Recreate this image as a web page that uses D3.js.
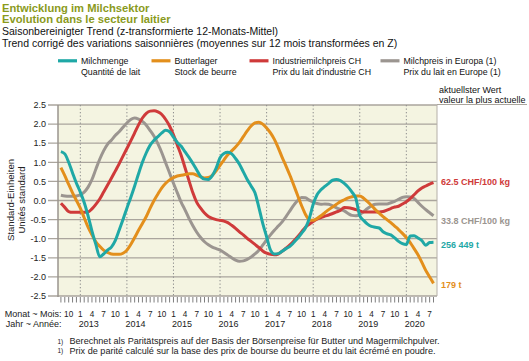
<!DOCTYPE html>
<html>
<head>
<meta charset="utf-8">
<script src="https://cdn.jsdelivr.net/npm/d3@7"></script>
<style>
  html, body { margin: 0; padding: 0; background: #ffffff; }
  svg { display: block; }
  text { font-family: "Liberation Sans", Arial, sans-serif; }
</style>
</head>
<body>
<svg id="chart" width="529" height="361"></svg>
<script>
// ---------- DATA (monthly, Aug 2012 .. Aug 2020) ----------
const firstMonth = { year: 2012, month: 8 };

const milchmenge = [
  1.28, 1.22, 1.0, 0.72, 0.45, 0.22, -0.05, -0.4, -0.8, -1.15,
  -1.47, -1.4, -1.3, -1.22, -1.05, -0.78, -0.5, -0.2, 0.08, 0.38,
  0.7, 1.0, 1.25, 1.45, 1.58, 1.67, 1.77, 1.84, 1.8, 1.66,
  1.52, 1.42, 1.27, 1.13, 0.97, 0.8, 0.63, 0.56, 0.55, 0.65,
  0.85, 1.12, 1.23, 1.26, 1.22, 1.1, 0.95, 0.75, 0.55, 0.38,
  0.2, -0.18, -0.6, -0.95, -1.3, -1.4, -1.39, -1.33, -1.26, -1.2,
  -1.1, -0.99, -0.86, -0.72, -0.47, -0.1, 0.15, 0.28, 0.37, 0.45,
  0.53, 0.55, 0.52, 0.45, 0.35, 0.22, 0.05, -0.4, -0.52, -0.62,
  -0.68, -0.7, -0.72, -0.82, -0.87, -0.9, -0.98, -1.07, -1.13, -1.15,
  -0.93, -0.92, -0.98, -1.05, -1.17, -1.1, -1.09
];
const butterlager = [
  0.86, 0.65, 0.42, 0.2, 0.0, -0.2, -0.45, -0.7, -0.9, -1.08,
  -1.2, -1.3, -1.36, -1.4, -1.41, -1.41, -1.38, -1.3, -1.15, -0.97,
  -0.78, -0.6, -0.42, -0.2, 0.0, 0.17, 0.33, 0.45, 0.54, 0.6,
  0.64, 0.66, 0.68, 0.7, 0.7, 0.66, 0.62, 0.59, 0.6, 0.66,
  0.78, 0.92, 1.06, 1.2, 1.3, 1.4, 1.52, 1.67, 1.82, 1.95,
  2.03, 2.05, 2.0, 1.9, 1.77, 1.6, 1.38, 1.13, 0.9, 0.66,
  0.4, 0.13, -0.13, -0.36, -0.5, -0.52, -0.47, -0.4, -0.32, -0.24,
  -0.17, -0.1, -0.03, 0.02, 0.07, 0.1, 0.12, 0.12, 0.06, -0.03,
  -0.13, -0.24, -0.33, -0.42, -0.5, -0.58, -0.67, -0.76, -0.86, -0.97,
  -1.1, -1.26, -1.42, -1.62, -1.83, -2.0, -2.17
];
const industriemilchpreis = [
  -0.07, -0.18, -0.29, -0.31, -0.31, -0.31, -0.31, -0.3, -0.22, -0.1,
  0.04, 0.22, 0.4, 0.58, 0.77, 0.96, 1.16, 1.36, 1.56, 1.77,
  1.98, 2.16, 2.28, 2.34, 2.35, 2.32, 2.25, 2.12, 1.95, 1.72,
  1.45, 1.18, 0.85, 0.52, 0.2, -0.05, -0.2, -0.33, -0.42, -0.47,
  -0.5, -0.52, -0.54, -0.58, -0.65, -0.73, -0.82, -0.9, -0.99, -1.07,
  -1.15, -1.23, -1.32, -1.38, -1.41, -1.42, -1.4, -1.33, -1.25, -1.16,
  -1.06, -0.95, -0.82, -0.7, -0.62, -0.55, -0.49, -0.45, -0.41, -0.38,
  -0.34, -0.3, -0.26, -0.18, -0.19, -0.21, -0.24, -0.27, -0.3, -0.3,
  -0.3, -0.3, -0.3, -0.29, -0.25, -0.21, -0.17, -0.15, -0.09, -0.03,
  0.05, 0.15, 0.25, 0.33, 0.38, 0.43, 0.47
];
const milchpreisEuropa = [
  0.14, 0.12, 0.11, 0.11, 0.12, 0.15, 0.22, 0.35, 0.55, 0.82,
  1.08, 1.3, 1.47, 1.58, 1.7, 1.8, 1.92, 2.03, 2.12, 2.16,
  2.13, 2.07, 1.97, 1.83, 1.68, 1.48, 1.25, 0.98, 0.72, 0.45,
  0.2, -0.05, -0.25, -0.47, -0.66, -0.83, -0.97, -1.08, -1.16, -1.22,
  -1.26, -1.3, -1.36, -1.43, -1.5, -1.56, -1.59, -1.58, -1.54, -1.48,
  -1.4, -1.3, -1.17, -1.03, -0.9, -0.78, -0.67, -0.56, -0.42, -0.27,
  -0.12, 0.0, 0.08, 0.07, 0.01, -0.04, -0.08, -0.1, -0.09, -0.1,
  -0.14, -0.19, -0.23, -0.27, -0.34, -0.39, -0.4, -0.37, -0.29, -0.21,
  -0.14, -0.1, -0.09, -0.09, -0.09, -0.06, -0.02, 0.03, 0.08, 0.1,
  0.09, 0.05, -0.05, -0.15, -0.24, -0.32, -0.4
];

const seriesNamesDE = ["Milchmenge", "Butterlager", "Industriemilchpreis CH", "Milchpreis in Europa (1)"];
const seriesNamesFR = ["Quantité de lait", "Stock de beurre", "Prix du lait d'industrie CH", "Prix du lait en Europe (1)"];
const latestValues  = ["256 449 t", "179 t", "62.5 CHF/100 kg", "33.8 CHF/100 kg"];
const seriesColors  = ["#1fa8a6", "#e38f1c", "#cf3a3a", "#9b9590"];

const yTicks = [2.5, 2.0, 1.5, 1.0, 0.5, 0.0, -0.5, -1.0, -1.5, -2.0, -2.5];
const quarterLabels = ["1", "4", "7", "10"];
const yearLabels = ["2013", "2014", "2015", "2016", "2017", "2018", "2019", "2020"];

// ---------- LAYOUT ----------
const svg = d3.select("#chart");
const P = { left: 58, right: 437, top: 105, bottom: 296 };

// month index relative to Jan 2013
const monthOffset = (firstMonth.year - 2013) * 12 + (firstMonth.month - 1); // -5
const x = d3.scaleLinear().domain([-5.75, 91.9]).range([P.left, P.right]);
const y = d3.scaleLinear().domain([-2.5, 2.5]).range([P.bottom, P.top]);

// titles
svg.append("text").attr("x", 2).attr("y", 11.5).attr("fill", "#8a9a1c")
  .attr("font-weight", "bold").attr("font-size", 11.2).text("Entwicklung im Milchsektor");
svg.append("text").attr("x", 2).attr("y", 22.8).attr("fill", "#8a9a1c")
  .attr("font-weight", "bold").attr("font-size", 11.2).text("Evolution dans le secteur laitier");
svg.append("text").attr("x", 2).attr("y", 35).attr("fill", "#111")
  .attr("font-size", 10.5).text("Saisonbereinigter Trend (z-transformierte 12-Monats-Mittel)");
svg.append("text").attr("x", 2).attr("y", 46.5).attr("fill", "#111")
  .attr("font-size", 10.5).text("Trend corrigé des variations saisonnières (moyennes sur 12 mois transformées en Z)");

// legend
const legendX = [58, 151.5, 249.5, 380.5];
seriesNamesDE.forEach((name, i) => {
  const g = svg.append("g");
  g.append("rect").attr("x", legendX[i]).attr("y", 59.2).attr("width", 19).attr("height", 3.2)
    .attr("fill", seriesColors[i]);
  g.append("text").attr("x", legendX[i] + 23).attr("y", 63.5).attr("font-size", 8.8)
    .attr("fill", "#111").text(name);
  g.append("text").attr("x", legendX[i] + 23).attr("y", 75.3).attr("font-size", 8.8)
    .attr("fill", "#111").text(seriesNamesFR[i]);
});

// right header
svg.append("text").attr("x", 439).attr("y", 93).attr("font-size", 9).attr("fill", "#111").text("aktuellster Wert");
svg.append("text").attr("x", 439).attr("y", 102.8).attr("font-size", 9).attr("fill", "#111").text("valeur la plus actuelle");

// plot background
svg.append("rect").attr("x", P.left).attr("y", P.top).attr("width", P.right - P.left)
  .attr("height", P.bottom - P.top).attr("fill", "#f4f4e1");

// horizontal grid + y ticks
const gridColor = "#aaa59d";
yTicks.forEach(v => {
  svg.append("line").attr("x1", 48).attr("x2", P.right)
    .attr("y1", y(v)).attr("y2", y(v)).attr("stroke", gridColor).attr("stroke-width", 1.3);
  svg.append("text").attr("x", 46).attr("y", y(v) + 3.2).attr("text-anchor", "end")
    .attr("font-size", 9).attr("fill", "#222").text(v.toFixed(1));
});
// extension of top line under right header
svg.append("line").attr("x1", P.right).attr("x2", 527).attr("y1", y(2.5) - 0.5).attr("y2", y(2.5) - 0.5)
  .attr("stroke", gridColor).attr("stroke-width", 1);

// vertical dotted year lines
yearLabels.forEach((yr, k) => {
  const m = k * 12;
  svg.append("line").attr("x1", x(m)).attr("x2", x(m)).attr("y1", P.top).attr("y2", P.bottom)
    .attr("stroke", "#8c8c8c").attr("stroke-width", 1).attr("stroke-dasharray", "1.3,2.2");
});

// axis frame
svg.append("line").attr("x1", P.left).attr("x2", P.left).attr("y1", P.top).attr("y2", P.bottom + 1)
  .attr("stroke", "#9a958e").attr("stroke-width", 1.5);
svg.append("line").attr("x1", P.right).attr("x2", P.right).attr("y1", P.top).attr("y2", P.bottom)
  .attr("stroke", "#b5b0a8").attr("stroke-width", 1);

// monthly ticks
const n = milchmenge.length;
for (let i = 0; i < n; i++) {
  const m = i + monthOffset;
  svg.append("line").attr("x1", x(m)).attr("x2", x(m)).attr("y1", P.bottom + 1).attr("y2", P.bottom + 6.5)
    .attr("stroke", "#6f6f6f").attr("stroke-width", 0.9);
}
// month labels (quarters)
for (let i = 0; i < n; i++) {
  const m = i + monthOffset;
  const mo = ((m % 12) + 12) % 12; // 0 = Jan
  if (mo % 3 === 0) {
    svg.append("text").attr("x", x(m)).attr("y", 316.5).attr("text-anchor", "middle")
      .attr("font-size", 8.2).attr("fill", "#222").text(quarterLabels[mo / 3]);
  }
}
yearLabels.forEach((yr, k) => {
  svg.append("text").attr("x", x(k * 12) - 1.5).attr("y", 327.3).attr("font-size", 9)
    .attr("fill", "#222").text(yr);
});
svg.append("text").attr("x", 61.5).attr("y", 316.5).attr("text-anchor", "end").attr("font-size", 9)
  .attr("fill", "#222").text("Monat ~ Mois:");
svg.append("text").attr("x", 61.5).attr("y", 327.3).attr("text-anchor", "end").attr("font-size", 9)
  .attr("fill", "#222").text("Jahr ~ Année:");

// y-axis title
const yt = svg.append("g").attr("transform", "translate(13.5,200) rotate(-90)");
yt.append("text").attr("x", 0).attr("y", 0).attr("text-anchor", "middle").attr("font-size", 9.6)
  .attr("fill", "#222").text("Standard-Einheiten");
yt.append("text").attr("x", 0).attr("y", 11.5).attr("text-anchor", "middle").attr("font-size", 9.6)
  .attr("fill", "#222").text("Unités standard");

// series lines
const allSeries = [milchmenge, butterlager, industriemilchpreis, milchpreisEuropa];
const line = d3.line().x((d, i) => x(i + monthOffset)).y(d => y(d)).curve(d3.curveMonotoneX);
const drawOrder = [3, 2, 1, 0];
drawOrder.forEach(s => {
  svg.append("path").datum(allSeries[s]).attr("d", line).attr("fill", "none")
    .attr("stroke", seriesColors[s]).attr("stroke-width", 3).attr("stroke-linejoin", "round")
    .attr("stroke-linecap", "butt");
});

// latest value labels
const labelDy = [5.5, 4.5, 2, 8.5];
allSeries.forEach((arr, s) => {
  svg.append("text").attr("x", 441).attr("y", y(arr[arr.length - 1]) + labelDy[s])
    .attr("font-size", 9).attr("font-weight", "bold").attr("fill", seriesColors[s]).text(latestValues[s]);
});

// footnotes
const fn = [
  "Berechnet als Paritätspreis auf der Basis der Börsenpreise für Butter und Magermilchpulver.",
  "Prix de parité calculé sur la base des prix de bourse du beurre et du lait écrémé en poudre."
];
fn.forEach((t, k) => {
  svg.append("text").attr("x", 57.5).attr("y", 343.5 + k * 9.7).attr("font-size", 6.5)
    .attr("fill", "#222").text("1)");
  svg.append("text").attr("x", 69.5).attr("y", 344 + k * 9.7).attr("font-size", 9.1)
    .attr("fill", "#222").text(t);
});
</script>
</body>
</html>
